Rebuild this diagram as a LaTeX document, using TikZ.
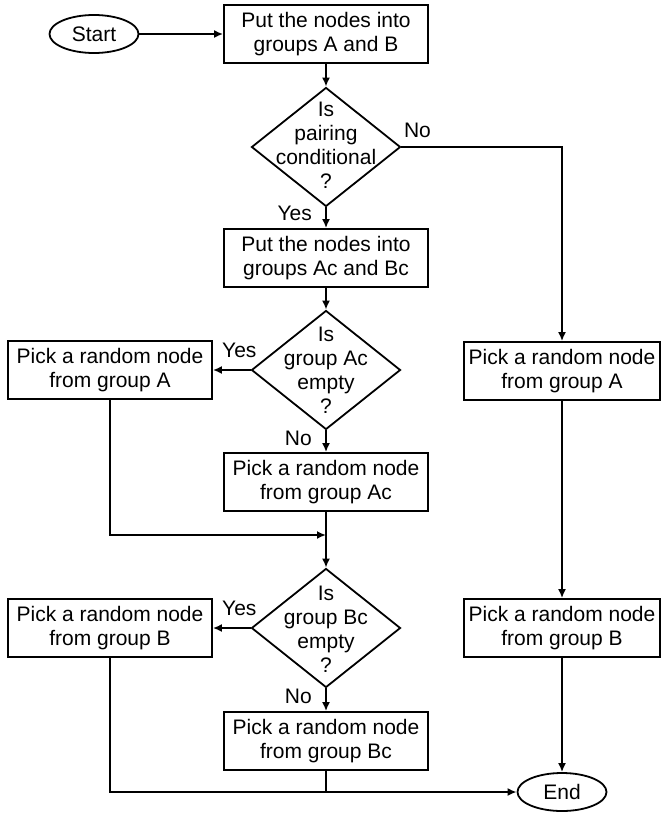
\documentclass[tikz,border=0pt]{standalone}
\usepackage{fontspec}
\setmainfont{Liberation Sans}
\usetikzlibrary{
arrows.meta,
shapes.geometric,
}

\begin{document}
\begin{tikzpicture}[x=1pt, y=-1pt,
    font=\fontsize{21}{24}\selectfont,
    proc/.style={draw, line width=1.8pt, minimum width=204pt, minimum height=58pt, inner sep=0pt, align=center},
    sidebox/.style={proc, minimum width=196pt},
    decision/.style={draw, diamond, line width=1.8pt, minimum width=149pt, minimum height=119pt, inner sep=0pt},
    term/.style={draw, ellipse, line width=1.8pt, minimum width=89pt, minimum height=38pt, inner sep=0pt},
    flow/.style={line width=1.8pt, -{Latex[length=9pt,width=8pt]}},
    link/.style={line width=1.8pt},
  ]
  \useasboundingbox (0,0) rectangle (661,814);

  % main column
  \node[term] (start) at (94,34) {Start};
  \node[proc] (put) at (326,34) {Put the nodes into\\groups A and B};
  \node[decision] (cond) at (326,147) {};
  \node[align=center] (condtxt) at (326,145) {Is\\pairing\\conditional\\?};
  \node[proc] (putc) at (326,258) {Put the nodes into\\groups Ac and Bc};
  \node[decision] (emptyA) at (326,370) {};
  \node[align=center] (emptyAtxt) at (326,370) {Is\\group Ac\\empty\\?};
  \node[proc] (pickAc) at (326,482) {Pick a random node\\from group Ac};
  \coordinate (joinA) at (326,535);
  \node[decision] (emptyB) at (326,628) {};
  \node[align=center] (emptyBtxt) at (326,629) {Is\\group Bc\\empty\\?};
  \node[proc] (pickBc) at (326,741) {Pick a random node\\from group Bc};
  \coordinate (joinB) at (326,792);

  % left column
  \node[proc] (pickA) at (110,370) {Pick a random node\\from group A};
  \node[proc] (pickB) at (110,628) {Pick a random node\\from group B};

  % right column
  \node[sidebox] (rpickA) at (562,371) {Pick a random node\\from group A};
  \node[sidebox] (rpickB) at (562,628) {Pick a random node\\from group B};
  \node[term] (end) at (562,792) {End};

  \draw[flow] (start) -- (put);
  \draw[flow] (put) -- (cond);
  \draw[flow] (cond) -- node[left=10pt, pos=0.3] {Yes} (putc);
  \draw[flow] (cond.east) -| node[above=5pt, pos=0.05] {No} (rpickA.north);
  \draw[flow] (putc) -- (emptyA);
  \draw[flow] (emptyA.west) -- node[above=8pt, pos=0.3] {Yes} (pickA.east);
  \draw[flow] (emptyA) -- node[left=10pt, pos=0.35] {No} (pickAc);
  \draw[flow] (pickA.south) |- (joinA);
  \draw[flow] (pickAc) -- (emptyB);
  \draw[flow] (emptyB.west) -- node[above=8pt, pos=0.3] {Yes} (pickB.east);
  \draw[flow] (emptyB) -- node[left=10pt, pos=0.35] {No} (pickBc);
  \draw[flow] (pickB.south) |- (end.west);
  \draw[link] (pickBc) -- (joinB);
  \draw[flow] (rpickA) -- (rpickB);
  \draw[flow] (rpickB) -- (end);
\end{tikzpicture}
\end{document}
